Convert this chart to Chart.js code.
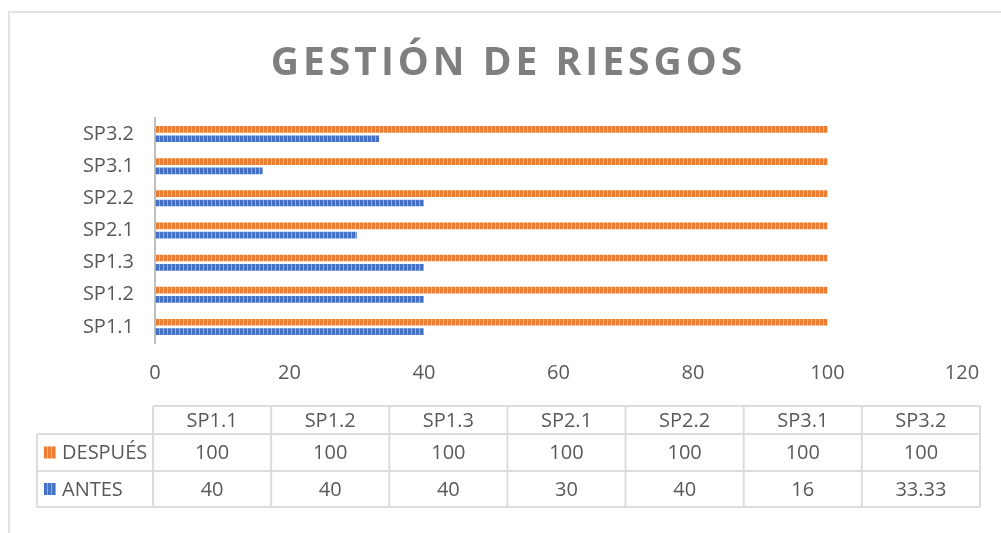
<!DOCTYPE html>
<html>
<head>
<meta charset="utf-8">
<script src="https://cdn.jsdelivr.net/npm/chart.js@4.4.0/dist/chart.umd.min.js"></script>
<style>
  body { margin: 0; background: #fff; }
  #wrap { position: relative; width: 1001px; height: 533px; overflow: hidden; }
  #frame { position: absolute; left: 8px; top: 11px; width: 1100px; height: 600px;
           border-left: 2px solid #e3e3e3; border-top: 2px solid #e3e3e3; }
  canvas { position: absolute; left: 0; top: 0; }
</style>
</head>
<body>
<div id="wrap">
  <div id="frame"></div>
  <canvas id="riesgosChart" width="1001" height="533"></canvas>
</div>
<script>
var titulo = 'GESTIÓN DE RIESGOS';
var categorias = ['SP1.1', 'SP1.2', 'SP1.3', 'SP2.1', 'SP2.2', 'SP3.1', 'SP3.2'];
var despues = [100, 100, 100, 100, 100, 100, 100];
var antes = [40, 40, 40, 30, 40, 16, 33.33];
var ejeMax = 120;
var ejePaso = 20;

var gris = '#595959';
Chart.defaults.font.family = "'Open Sans', sans-serif";

var ctx = document.getElementById('riesgosChart').getContext('2d');

// relleno rayado vertical como el de Excel
function rayado(base, claro) {
  var c = document.createElement('canvas');
  c.width = 4; c.height = 4;
  var g = c.getContext('2d');
  g.fillStyle = base; g.fillRect(0, 0, 4, 4);
  g.fillStyle = claro; g.fillRect(3, 0, 1, 4);
  return ctx.createPattern(c, 'repeat');
}
var naranja = rayado('#ED7D31', '#F6B088');
var azul = rayado('#4472C4', '#8FAADC');

var tituloPlugin = {
  id: 'tituloPlugin',
  afterDraw: function(chart) {
    var c = chart.ctx;
    c.save();
    c.font = "bold 39px 'Open Sans'";
    c.letterSpacing = '4px';
    c.fillStyle = '#7F7F7F';
    c.textAlign = 'center';
    c.textBaseline = 'alphabetic';
    c.fillText(titulo, chart.width / 2 + 8, 75);
    c.restore();
  }
};

var tablaDatos = {
  id: 'tablaDatos',
  afterDraw: function(chart) {
    var c = chart.ctx;
    var x0 = chart.chartArea.left - 2;
    var x1 = 980;
    var xLey = 37;
    var colW = (x1 - x0) / categorias.length;
    var filas = [406, 434, 471, 507];

    c.save();
    c.strokeStyle = '#DCDCDC';
    c.lineWidth = 2;
    c.beginPath();
    c.moveTo(x0, filas[0]); c.lineTo(x1, filas[0]);
    for (var r = 1; r < filas.length; r++) {
      c.moveTo(xLey, filas[r]); c.lineTo(x1, filas[r]);
    }
    c.moveTo(xLey, filas[1]); c.lineTo(xLey, filas[3]);
    for (var i = 0; i <= categorias.length; i++) {
      c.moveTo(x0 + i * colW, filas[0]); c.lineTo(x0 + i * colW, filas[3]);
    }
    c.stroke();

    c.font = "20px 'Open Sans'";
    c.fillStyle = gris;
    c.textAlign = 'center';
    c.textBaseline = 'middle';
    var series = [despues, antes];
    for (var k = 0; k < categorias.length; k++) {
      var cx = x0 + (k + 0.5) * colW;
      c.fillText(categorias[k], cx, (filas[0] + filas[1]) / 2 + 1);
      for (var s = 0; s < series.length; s++) {
        c.fillText(String(series[s][k]), cx, (filas[s + 1] + filas[s + 2]) / 2 + 1);
      }
    }

    // claves de la leyenda
    c.textAlign = 'left';
    chart.data.datasets.forEach(function(ds, s) {
      var yc = (filas[s + 1] + filas[s + 2]) / 2;
      c.fillStyle = ds.backgroundColor;
      c.fillRect(44, yc - 6, 12, 12);
      c.fillStyle = gris;
      c.fillText(ds.label, 62, yc + 1);
    });
    c.restore();
  }
};

new Chart(ctx, {
  type: 'bar',
  data: {
    labels: categorias,
    datasets: [
      { label: 'DESPUÉS', data: despues, backgroundColor: naranja },
      { label: 'ANTES', data: antes, backgroundColor: azul }
    ]
  },
  options: {
    indexAxis: 'y',
    responsive: false,
    animation: false,
    categoryPercentage: 0.58,
    barPercentage: 0.72,
    layout: { padding: { top: 118, right: 39, bottom: 150, left: 0 } },
    plugins: {
      legend: { display: false },
      tooltip: { enabled: false }
    },
    scales: {
      x: {
        min: 0,
        max: ejeMax,
        grid: { display: false, drawTicks: false },
        border: { display: false },
        ticks: { stepSize: ejePaso, color: gris, font: { size: 20 }, padding: 18, maxRotation: 0 },
        afterFit: function(scale) { scale.height = 40; }
      },
      y: {
        reverse: true,
        grid: { display: false, drawTicks: false },
        border: { color: '#BFBFBF', width: 2 },
        ticks: { color: gris, font: { size: 20 }, padding: 21 },
        afterFit: function(scale) { scale.width = 155; }
      }
    }
  },
  plugins: [tituloPlugin, tablaDatos]
});
</script>
</body>
</html>
